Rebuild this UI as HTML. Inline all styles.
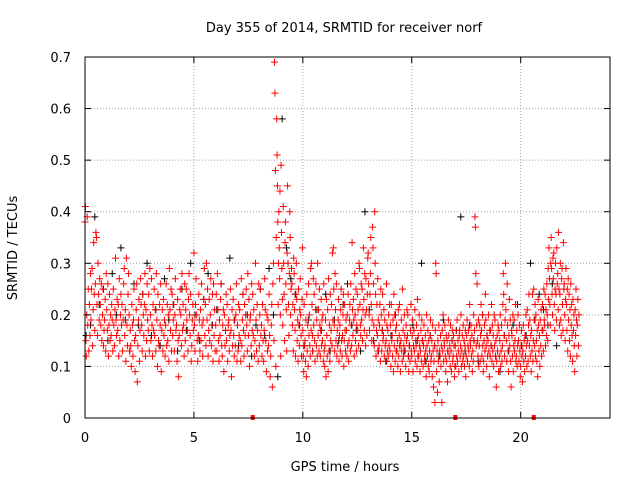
<!DOCTYPE html>
<html><head><meta charset="utf-8"><style>
body{margin:0;background:#fff;}
svg{display:block;font-family:"DejaVu Sans","Liberation Sans",sans-serif;}
</style></head><body>
<svg id="chart" width="640" height="480">
<rect width="640" height="480" fill="#fff"/>
<text x="344" y="32" font-size="13" text-anchor="middle">Day 355 of 2014, SRMTID for receiver norf</text>
<text x="345" y="471" font-size="13" text-anchor="middle">GPS time / hours</text>
<text transform="translate(17,248) rotate(-90)" font-size="13" text-anchor="middle">SRMTID / TECUs</text>
<g id="grid"></g><g id="black"></g><g id="red"></g><g id="axes"></g>
</svg>
<script>
const xTicks=[0,5,10,15,20];
const yTicks=[0,0.1,0.2,0.3,0.4,0.5,0.6,0.7];
const yTickLabels=["0","0.1","0.2","0.3","0.4","0.5","0.6","0.7"];
const redStartHour=0;
const redBinHours=0.1;
const redHours=[
"38 41 15 12 20|39 18 25 13|22 16 28 19|25 29 14 21|34 24 17 26|36 35 22 16|30 24 19 27|22 18 26 15|20 25 14 17|19 23 13 28",
"21 17 26 12|18 24 15 20|16 22 19 13|25 18 14 21|31 19 16 23|17 22 12 27|15 20 24 18|22 13 19 26|29 16 21 11|31 18 14 24",
"28 20 13 17|14 10 22 18|12 19 25 15|09 16 21 26|07 14 19 23|11 17 27 22|18 13 24 20|16 22 28 12|21 15 26 19|17 24 13 29",
"20 15 27 18|12 22 17 25|16 21 13 28|19 10 24 15|14 22 18 26|09 17 21 13|23 16 19 12|18 26 14 22|15 20 11 29|21 17 25 13",
"24 16 19 22|13 20 27 17|18 11 23 15|08 16 21 25|20 14 28 17|22 18 12 26|15 21 25 19|17 13 23 28|20 16 24 11|14 19 22 17",
"32 18 13 22|27 20 15 11|16 24 19 13|21 15 26 18|12 19 23 29|16 22 14 30|19 25 12 17|23 15 20 27|14 18 24 11|26 16 21 13",
"18 24 13 28|21 15 11 19|16 23 26 14|12 18 21 09|20 14 17 24|15 22 11 18|19 13 16 25|17 08 21 14|23 16 12 19|14 20 26 11",
"18 13 22 16|21 15 11 27|14 19 24 17|12 22 16 20|25 18 13 28|16 23 10 19|20 14 26 17|24 16 21 12|15 30 19 13|22 17 11 26",
"14 20 25 16|18 12 22 15|11 17 27 21|15 09 20 13|19 14 24 16|08 12 18 22|06 26 30 15|69 63 48 10 35|58 51 45 38 22 30|40 33 27 44 20 12",
"49 36 29 23 18|41 30 24 15 34|38 26 21 13 32|45 30 22 16 28|40 35 20 25 29|26 18 22 13 31|28 21 17 12 24|30 23 15 19 11|25 18 14 21 27|20 16 12 23 33",
"17 12 09 22 14|15 11 19 08 24|13 18 10 26 16|20 14 12 29 17|30 22 16 13 27|18 24 15 11 21|26 14 19 12 30|16 21 13 25 18|12 17 23 14 19|15 20 11 26 13",
"10 14 19 08 23|16 12 21 09 27|13 18 11 24 15|17 22 14 32 19|33 25 18 13 28|21 15 26 12 17|14 19 23 11 16|18 13 21 25 15|12 16 20 24 10|15 22 17 13 19",
"17 12 20 14 24|11 15 19 22 13|26 18 14 34 21|16 23 19 12 28|20 15 25 13 18|24 17 21 14 30|29 22 18 16 26|19 25 15 21 33|23 17 28 20 14|27 21 16 24 31",
"32 26 20 17 24|28 35 22 15 19|37 33 26 18 14|40 30 24 12 17|22 16 27 19 13|14 18 22 11 25|20 13 17 24 15|16 21 12 19 14|11 15 26 18 13|17 12 20 14 22",
"13 18 10 22 15|16 12 19 09 24|14 20 11 17 13|18 13 15 10 21|12 16 22 14 09|15 19 13 11 25|17 12 14 20 16|13 10 18 15 21|16 20 12 09 14|14 11 17 22 13",
"12 16 19 09 14|17 13 21 11 15|14 18 10 23 12|16 12 20 14 09|13 17 11 19 15|15 10 14 18 12|11 16 13 08 20|14 12 17 10 15|09 13 16 19 11|12 15 08 18 13",
"06 11 14 03 17|30 28 09 13 05|15 11 18 07 13|12 16 10 14 03|17 13 20 11 15|14 18 12 09 16|11 15 07 13 19|16 12 14 10 18|13 09 15 17 11|12 16 14 08 10",
"14 10 17 12 19|11 15 13 09 16|17 12 14 20 10|13 16 11 18 12|15 10 14 17 08|12 16 19 11 14|17 13 10 22 15|14 18 12 16 09|13 11 20 15 17|39 37 28 14 18",
"26 15 12 19 10|14 18 11 16 22|17 12 20 14 09|11 15 18 13 24|19 14 10 16 12|15 20 13 08 17|12 17 14 22 11|18 13 16 10 20|14 19 12 15 06|11 16 13 18 09",
"17 12 15 20 10|13 18 11 14 22|28 24 16 12 19|30 21 15 11 26|18 13 09 16 23|14 19 11 06 17|16 12 20 09 14|19 13 15 22 11|12 17 10 14 20|15 11 18 13 08",
"10 14 17 12 07|13 18 11 15 09|16 12 20 14 10|21 15 11 18 24|14 19 12 16 09|17 13 24 11 15|25 19 14 22 12|20 15 11 17 08|23 18 13 16 10|19 14 21 12 17",
"22 17 13 25 19|18 24 14 21 16|26 20 15 29 23|33 27 22 18 30|35 29 24 20 31|27 32 22 17 25|30 24 19 33 26|28 21 36 25 18|24 30 19 16 27|29 22 17 34 25",
"26 20 15 23 29|22 17 25 13 27|19 24 15 21 12|26 18 22 16 11|23 17 20 14 09|21 16 25 19 12|18 23 14 20"
];
const blackStartHour=0.05;
const blackBinHours=0.2;
const blackValues="16 18 39 22 25 15 28 20 33 19 13 26 18 24 30 16 21 14 27 19 22 13 25 17 30 20 15 23 28 18 21 26 17 31 19 14 24 20 12 18 25 16 29 20 08 58 33 27 24 18 14 19 13 21 17 24 13 19 15 22 26 18 17 13 40 21 15 13 17 11 16 20 14 13 12 18 15 30 11 16 14 12 19 13 15 17 39 13 18 15 11 20 16 14 12 09 16 13 18 22 14 16 30 19 24 21 18 26 14";
const zeroHours=[7.7,17.0,20.6];

const L=85,R=610,T=57,B=418,XMAX=24.1,YMAX=0.7;
const xs=h=>L+h/XMAX*(R-L);
const ys=v=>B-v/YMAX*(B-T);
const NS="http://www.w3.org/2000/svg";
function mk(tag,attrs,parent){const e=document.createElementNS(NS,tag);for(const k in attrs)e.setAttribute(k,attrs[k]);parent.appendChild(e);return e;}
const grid=document.getElementById('grid'),axes=document.getElementById('axes');
yTicks.forEach((v,i)=>{
 const y=ys(v);
 if(i>0&&i<yTicks.length-1){const g=mk('line',{x1:L,x2:R,y1:y,y2:y,stroke:'#a0a0a0','stroke-dasharray':'1,2'},grid);
 
 }
 mk('line',{x1:L,x2:L+6,y1:y,y2:y,stroke:'#000'},axes);
 mk('line',{x1:R,x2:R-6,y1:y,y2:y,stroke:'#000'},axes);
 const t=mk('text',{x:L-14,y:y+5,'font-size':13,'text-anchor':'end'},axes);t.textContent=yTickLabels[i];
 
 
});
xTicks.forEach(h=>{
 const x=xs(h);
 if(h>0){const g=mk('line',{x1:x,x2:x,y1:T,y2:B,stroke:'#a0a0a0','stroke-dasharray':'1,2'},grid);
 
 }
 mk('line',{x1:x,x2:x,y1:B,y2:B-6,stroke:'#000'},axes);
 mk('line',{x1:x,x2:x,y1:T,y2:T+6,stroke:'#000'},axes);
 const t=mk('text',{x:x,y:B+24,'font-size':13,'text-anchor':'middle'},axes);t.textContent=String(h);
 
 
});
const frame=mk('rect',{x:L,y:T,width:R-L,height:B-T,fill:'none',stroke:'#000'},axes);


function plus(parent,h,v,color,name){
 const x=xs(h),y=ys(v);
 const p=mk('path',{d:`M${x-3.5},${y}h7M${x},${y-3.5}v7`,stroke:color,'stroke-width':1},parent);
 
 
}
const black=document.getElementById('black'),red=document.getElementById('red');
blackValues.split(' ').forEach((s,i)=>plus(black,blackStartHour+i*blackBinHours,parseInt(s,10)/100,'#000','black-point'));
redHours.forEach((hs,hi)=>{
 hs.split('|').forEach((bin,bi)=>{
  const vals=bin.trim().split(' ');
  vals.forEach((s,j)=>plus(red,redStartHour+hi+bi*redBinHours+j*redBinHours/vals.length,parseInt(s,10)/100,'#f00','red-point'));
 });
});
zeroHours.forEach(h=>{
 const r=mk('rect',{x:xs(h)-2,y:ys(0)-3,width:4,height:5,fill:'#f00'},red);
 
 
});
</script>
</body></html>
